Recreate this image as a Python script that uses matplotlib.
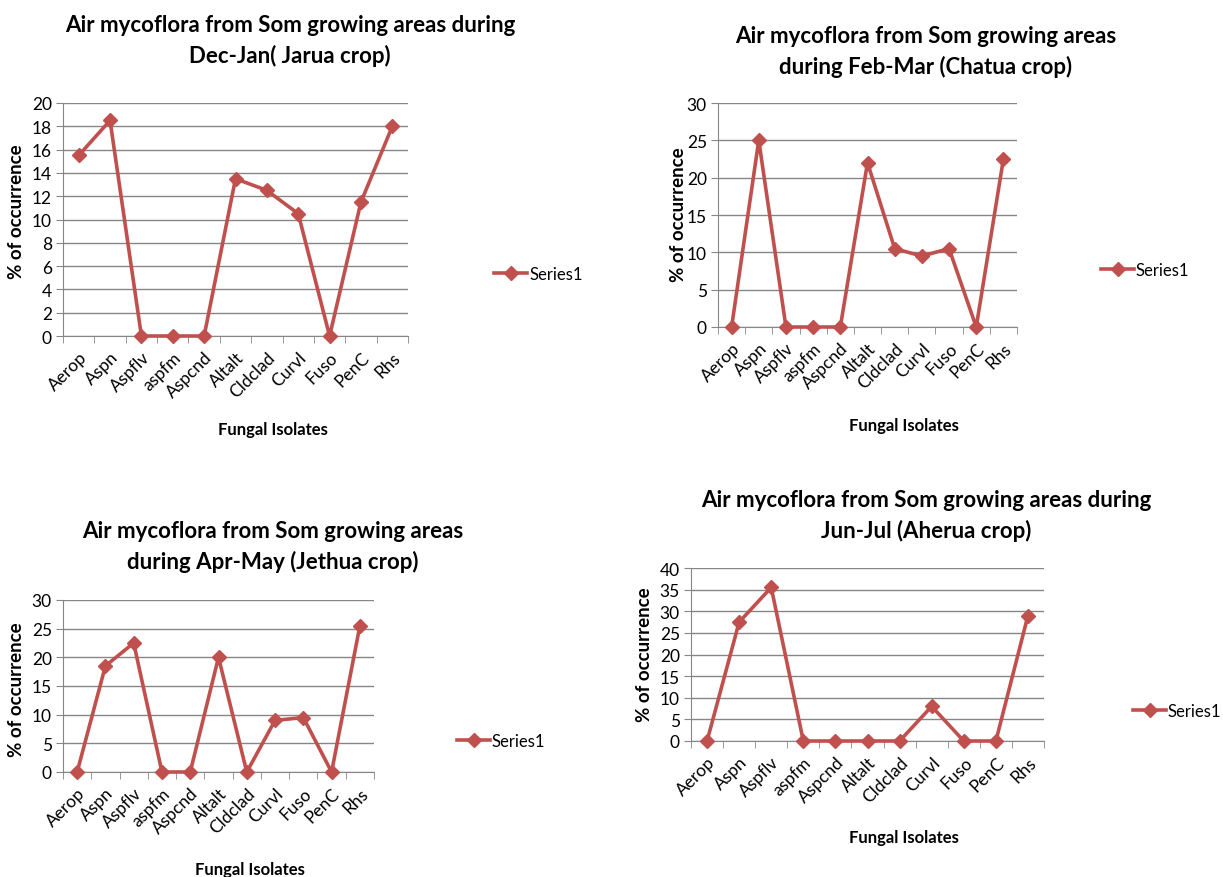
import numpy as np
import matplotlib
matplotlib.use("Agg")
import matplotlib.pyplot as plt
from matplotlib.ticker import MultipleLocator, FixedLocator

plt.rcParams['font.family'] = ['Lato', 'DejaVu Sans']

isolates = ["Aerop", "Aspn", "Aspflv", "aspfm", "Aspcnd", "Altalt",
            "Cldclad", "Curvl", "Fuso", "PenC", "Rhs"]

dec_jan = [15.5, 18.5, 0, 0, 0, 13.5, 12.5, 10.5, 0, 11.5, 18]
feb_mar = [0, 25, 0, 0, 0, 22, 10.5, 9.5, 10.5, 0, 22.5]
apr_may = [0, 18.5, 22.5, 0, 0, 20, 0, 9, 9.5, 0, 25.5]
jun_jul = [0, 27.5, 35.5, 0, 0, 0, 0, 8, 0, 0, 29]

titles = [
    "Air mycoflora from Som growing areas during\nDec-Jan( Jarua crop)",
    "Air mycoflora from Som growing areas\nduring Feb-Mar (Chatua crop)",
    "Air mycoflora from Som growing areas\nduring Apr-May (Jethua crop)",
    "Air mycoflora from Som growing areas during\nJun-Jul (Aherua crop)",
]
y_max = [20, 30, 30, 40]
y_step = [2, 5, 5, 5]

W, H = 1223, 878
RED = "#C0504D"
GRID = "#868686"

# pixel layout: plot box (left, top, right, bottom), title center, ylabel, xlabel, legend
layout = [
    dict(box=(63, 104, 408, 337), title=(290, 41), ylab=(17, 212), xlab=(273, 430), leg=(494, 275)),
    dict(box=(718, 104, 1017, 328), title=(926, 52), ylab=(678, 215), xlab=(904, 426), leg=(1101, 271)),
    dict(box=(63, 601, 374, 773), title=(273, 547), ylab=(17, 690), xlab=(250, 870), leg=(457, 742)),
    dict(box=(691, 569, 1044, 742), title=(926, 516), ylab=(645, 655), xlab=(904, 838), leg=(1133, 712)),
]

fig = plt.figure(figsize=(W / 100, H / 100), dpi=100)
fig.patch.set_facecolor("white")

series = [dec_jan, feb_mar, apr_may, jun_jul]
x = np.arange(len(isolates))

for i, vals in enumerate(series):
    L = layout[i]
    l, t, r, b = L["box"]
    ax = fig.add_axes([l / W, 1 - b / H, (r - l) / W, (b - t) / H])
    ax.plot(x, vals, color=RED, lw=2.6, marker="D", ms=7, label="Series1", zorder=3, clip_on=False)
    ax.set_xlim(-0.5, len(isolates) - 0.5)
    ax.set_ylim(0, y_max[i])
    ax.yaxis.set_major_locator(MultipleLocator(y_step[i]))
    ax.grid(axis="y", color=GRID, lw=1)
    ax.set_axisbelow(True)
    for s in ["top", "right"]:
        ax.spines[s].set_visible(False)
    for s in ["left", "bottom"]:
        ax.spines[s].set_color(GRID)
    ax.set_xticks(x)
    ax.set_xticklabels(isolates, rotation=45, ha="right", rotation_mode="anchor", fontsize=12.5)
    ax.tick_params(axis="x", which="major", length=0, pad=9)
    ax.xaxis.set_minor_locator(FixedLocator(np.arange(-0.5, len(isolates), 1)))
    ax.tick_params(axis="x", which="minor", length=5, color=GRID)
    ax.tick_params(axis="y", length=5, color=GRID, labelsize=12.5, pad=3)

    fig.text(L["title"][0] / W, 1 - L["title"][1] / H, titles[i], ha="center", va="center",
             fontsize=16, fontweight="bold", linespacing=1.45)
    fig.text(L["ylab"][0] / W, 1 - L["ylab"][1] / H, "% of occurrence", rotation=90,
             ha="center", va="center", fontsize=13.5, fontweight="bold")
    fig.text(L["xlab"][0] / W, 1 - L["xlab"][1] / H, "Fungal Isolates",
             ha="center", va="center", fontsize=12, fontweight="bold")
    ax.legend(loc="center left", bbox_to_anchor=(L["leg"][0] / W, 1 - L["leg"][1] / H),
              bbox_transform=fig.transFigure, frameon=False, fontsize=12,
              handlelength=2.0, handletextpad=0.1, borderpad=0, borderaxespad=0)

fig.savefig("out.png", dpi=100, facecolor="white")
